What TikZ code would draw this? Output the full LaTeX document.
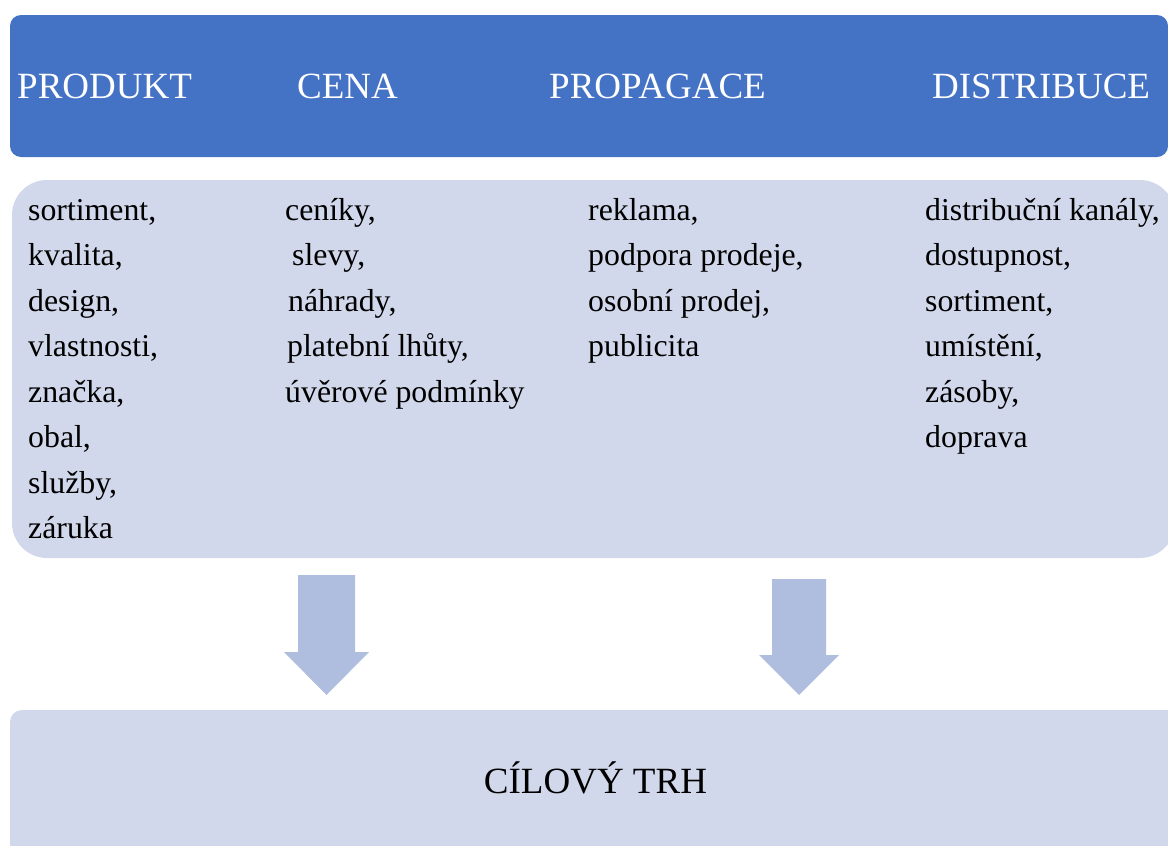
\documentclass[tikz,border=0pt]{standalone}
\usepackage{fontspec}
\setmainfont{Liberation Serif}
\definecolor{hdrblue}{HTML}{4472C4}
\definecolor{lightbox}{HTML}{D2D8EB}
\definecolor{arrowc}{HTML}{AFBDDE}
\tikzset{
  panel/.style={fill=#1, draw=none, inner sep=0pt},
  hdr/.style={anchor=base west, text=white, inner sep=0pt, font=\fontsize{37}{44}\selectfont},
  item/.style={anchor=base west, text=black, inner sep=0pt, font=\fontsize{31.8}{38}\selectfont},
  bigarrow/.style={fill=arrowc, draw=none}
}
\begin{document}
\begin{tikzpicture}[x=1pt,y=-1pt]
\useasboundingbox (0,0) rectangle (1168,846);
\clip (0,0) rectangle (1168,846);
% panels
\node[panel=hdrblue, rounded corners=11pt, minimum width=1158pt, minimum height=142pt] (top) at (589,86) {};
\node[panel=lightbox, rounded corners=35pt, minimum width=1163pt, minimum height=378pt] (mid) at (593.5,369) {};
\node[panel=lightbox, rounded corners=12pt, minimum width=1170pt, minimum height=170pt] (bot) at (595,795) {};
% headers
\node[hdr] (hp) at (17,98) {PRODUKT};
\node[hdr] (hc) at (297,98) {CENA};
\node[hdr] (hr) at (549,98) {PROPAGACE};
\node[hdr] (hd) at (932,98) {DISTRIBUCE};
% column 1
\node[item] (a1) at (28,220) {sortiment,};
\node[item] (a2) at (28,265.5) {kvalita,};
\node[item] (a3) at (28,311) {design,};
\node[item] (a4) at (28,356.5) {vlastnosti,};
\node[item] (a5) at (28,402) {značka,};
\node[item] (a6) at (28,447.5) {obal,};
\node[item] (a7) at (28,493) {služby,};
\node[item] (a8) at (28,538.5) {záruka};
% column 2
\node[item] (b1) at (285,220) {ceníky,};
\node[item] (b2) at (292,265.5) {slevy,};
\node[item] (b3) at (288,311) {náhrady,};
\node[item] (b4) at (287,356.5) {platební lhůty,};
\node[item] (b5) at (285,402) {úvěrové podmínky};
% column 3
\node[item] (c1) at (588,220) {reklama,};
\node[item] (c2) at (588,265.5) {podpora prodeje,};
\node[item] (c3) at (588,311) {osobní prodej,};
\node[item] (c4) at (588,356.5) {publicita};
% column 4
\node[item] (d1) at (925,220) {distribuční kanály,};
\node[item] (d2) at (925,265.5) {dostupnost,};
\node[item] (d3) at (925,311) {sortiment,};
\node[item] (d4) at (925,356.5) {umístění,};
\node[item] (d5) at (925,402) {zásoby,};
\node[item] (d6) at (925,447.5) {doprava};
% arrows
\fill[bigarrow] (298,575) -- (355,575) -- (355,652) -- (369,652) -- (326.5,695) -- (284,652) -- (298,652) -- cycle;
\fill[bigarrow] (772,579) -- (826,579) -- (826,655) -- (839,655) -- (799,695) -- (759,655) -- (772,655) -- cycle;
% target
\node[anchor=base, inner sep=0pt, font=\fontsize{37}{44}\selectfont] (target) at (595.5,793) {CÍLOVÝ TRH};
\end{tikzpicture}
\end{document}
